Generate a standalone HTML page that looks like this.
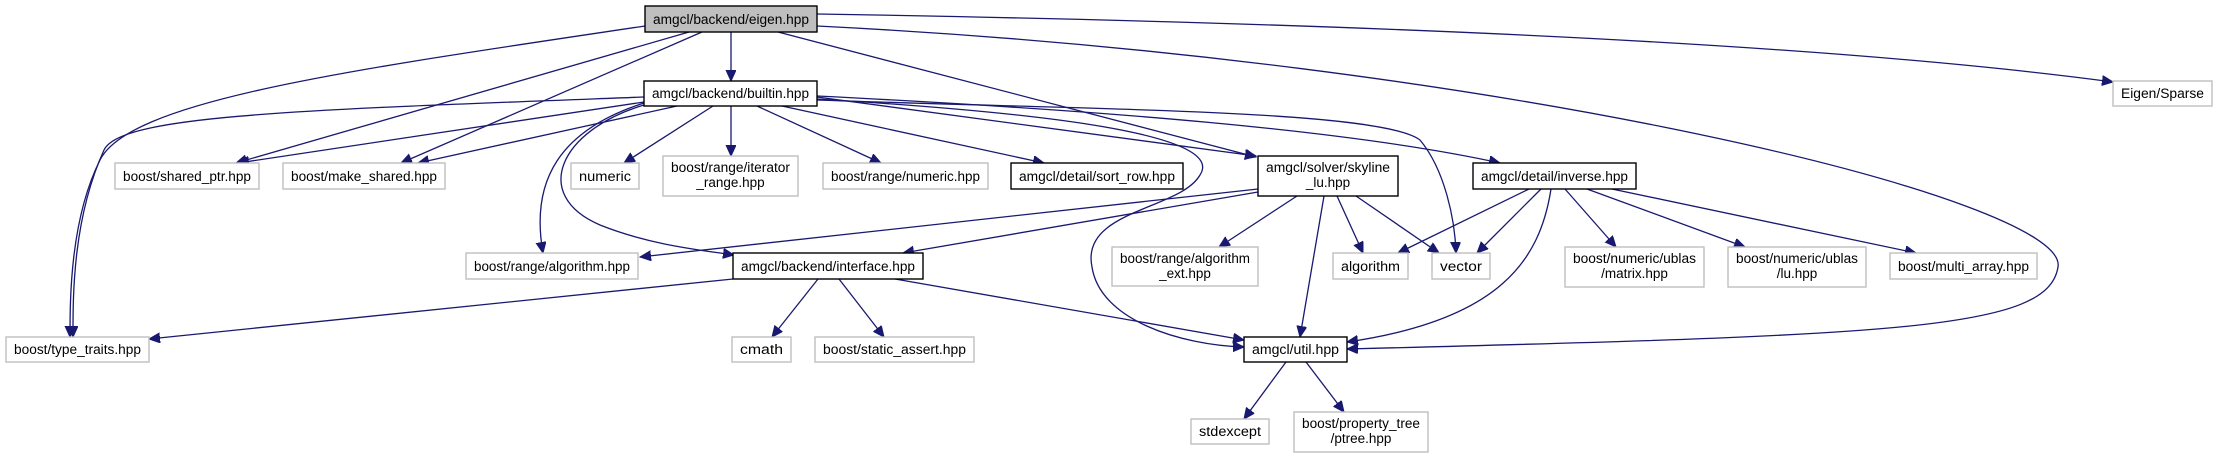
<!DOCTYPE html>
<html><head><meta charset="utf-8"><style>
html,body{margin:0;padding:0;background:#fff;}
svg{display:block;}
text{font-family:"Liberation Sans",sans-serif;font-size:13.5px;fill:#000;text-anchor:middle;}
.g{fill:#fff;stroke:#bfbfbf;stroke-width:1.4;}
.b{fill:#fff;stroke:#000;stroke-width:1.4;}
.f{fill:#bfbfbf;stroke:#000;stroke-width:1.4;}
.e{fill:none;stroke:#191970;stroke-width:1.3;marker-end:url(#a);}
</style></head><body>
<svg width="2217" height="459" viewBox="0 0 2217 459" xmlns="http://www.w3.org/2000/svg">
<defs><marker id="a" markerUnits="userSpaceOnUse" markerWidth="14" markerHeight="12" refX="11" refY="5" orient="auto"><path d="M0,0 L11,5 L0,10 z" fill="#191970" stroke="#191970"/></marker></defs>
<path class="e" d="M731,32 L731,81"/>
<path class="e" d="M689,32 L236,163"/>
<path class="e" d="M702,32 L401,163"/>
<path class="e" d="M645,26 C 350,70 130,100 100,160 C 70,220 70,300 70,337"/>
<path class="e" d="M778,32 L1256,157"/>
<path class="e" d="M817,14 C 1300,22 1800,40 2113,82"/>
<path class="e" d="M817,26 C 1500,60 2070,200 2058,267 C 2048,330 1900,335 1347,349"/>
<path class="e" d="M644,102 L238,163"/>
<path class="e" d="M677,106 L418,163"/>
<path class="e" d="M644,97 C 300,110 120,115 104,150 C 72,220 73,300 73,337"/>
<path class="e" d="M713,106 L624,163"/>
<path class="e" d="M731,106 L731,156"/>
<path class="e" d="M757,106 L881,163"/>
<path class="e" d="M782,106 L1044,163"/>
<path class="e" d="M644,103 C 560,130 530,180 543,253"/>
<path class="e" d="M644,105 C 560,130 530,195 600,225 C 650,245 700,250 734,255"/>
<path class="e" d="M817,97 L1256,156"/>
<path class="e" d="M817,99 C 1000,110 1230,130 1200,175 C 1180,210 1080,210 1092,267 C 1100,320 1180,345 1244,347"/>
<path class="e" d="M817,100 C 1100,110 1380,110 1420,140 C 1445,170 1455,220 1456,253"/>
<path class="e" d="M817,96 C 1100,110 1350,130 1500,163"/>
<path class="e" d="M1258,189 L640,257"/>
<path class="e" d="M1258,192 L903,253"/>
<path class="e" d="M1297,196 L1219,247"/>
<path class="e" d="M1324,196 L1300,337"/>
<path class="e" d="M1337,196 L1363,253"/>
<path class="e" d="M1356,196 L1439,253"/>
<path class="e" d="M1529,189 L1398,253"/>
<path class="e" d="M1541,189 L1477,253"/>
<path class="e" d="M1551,189 C 1540,260 1500,320 1347,342"/>
<path class="e" d="M1565,189 L1616,247"/>
<path class="e" d="M1587,189 L1745,247"/>
<path class="e" d="M1612,189 L1916,253"/>
<path class="e" d="M733,279 L149,339"/>
<path class="e" d="M818,279 L772,337"/>
<path class="e" d="M839,279 L884,337"/>
<path class="e" d="M895,279 L1244,340"/>
<path class="e" d="M1286,362 L1244,419"/>
<path class="e" d="M1306,362 L1344,412"/>
<rect class="f" x="645" y="6" width="172" height="26"/><text x="731" y="24" textLength="156" lengthAdjust="spacingAndGlyphs">amgcl/backend/eigen.hpp</text>
<rect class="b" x="644" y="81" width="173" height="25"/><text x="730.5" y="98" textLength="157" lengthAdjust="spacingAndGlyphs">amgcl/backend/builtin.hpp</text>
<rect class="g" x="115" y="163" width="144" height="26"/><text x="187" y="181" textLength="128" lengthAdjust="spacingAndGlyphs">boost/shared_ptr.hpp</text>
<rect class="g" x="283" y="163" width="162" height="26"/><text x="364" y="181" textLength="146" lengthAdjust="spacingAndGlyphs">boost/make_shared.hpp</text>
<rect class="g" x="571" y="163" width="68" height="26"/><text x="605" y="181" textLength="52" lengthAdjust="spacingAndGlyphs">numeric</text>
<rect class="g" x="663" y="156" width="135" height="40"/><text x="730.5" y="172" textLength="119" lengthAdjust="spacingAndGlyphs">boost/range/iterator</text><text x="730.5" y="187">_range.hpp</text>
<rect class="g" x="823" y="163" width="165" height="26"/><text x="905.5" y="181" textLength="149" lengthAdjust="spacingAndGlyphs">boost/range/numeric.hpp</text>
<rect class="b" x="1011" y="163" width="172" height="26"/><text x="1097" y="181" textLength="156" lengthAdjust="spacingAndGlyphs">amgcl/detail/sort_row.hpp</text>
<rect class="b" x="1258" y="156" width="140" height="40"/><text x="1328" y="172" textLength="124" lengthAdjust="spacingAndGlyphs">amgcl/solver/skyline</text><text x="1328" y="187">_lu.hpp</text>
<rect class="b" x="1473" y="163" width="163" height="26"/><text x="1554.5" y="181" textLength="147" lengthAdjust="spacingAndGlyphs">amgcl/detail/inverse.hpp</text>
<rect class="g" x="2113" y="81" width="99" height="25"/><text x="2162.5" y="98" textLength="83" lengthAdjust="spacingAndGlyphs">Eigen/Sparse</text>
<rect class="g" x="466" y="253" width="172" height="26"/><text x="552" y="271" textLength="156" lengthAdjust="spacingAndGlyphs">boost/range/algorithm.hpp</text>
<rect class="b" x="733" y="253" width="190" height="26"/><text x="828" y="271" textLength="174" lengthAdjust="spacingAndGlyphs">amgcl/backend/interface.hpp</text>
<rect class="g" x="1112" y="247" width="146" height="39"/><text x="1185" y="263" textLength="130" lengthAdjust="spacingAndGlyphs">boost/range/algorithm</text><text x="1185" y="278">_ext.hpp</text>
<rect class="g" x="1333" y="253" width="75" height="26"/><text x="1370.5" y="271" textLength="59" lengthAdjust="spacingAndGlyphs">algorithm</text>
<rect class="g" x="1432" y="253" width="58" height="26"/><text x="1461" y="271" textLength="42" lengthAdjust="spacingAndGlyphs">vector</text>
<rect class="g" x="1565" y="247" width="139" height="40"/><text x="1634.5" y="263" textLength="123" lengthAdjust="spacingAndGlyphs">boost/numeric/ublas</text><text x="1634.5" y="278">/matrix.hpp</text>
<rect class="g" x="1728" y="247" width="138" height="40"/><text x="1797" y="263" textLength="122" lengthAdjust="spacingAndGlyphs">boost/numeric/ublas</text><text x="1797" y="278">/lu.hpp</text>
<rect class="g" x="1890" y="253" width="147" height="26"/><text x="1963.5" y="271" textLength="131" lengthAdjust="spacingAndGlyphs">boost/multi_array.hpp</text>
<rect class="g" x="6" y="337" width="143" height="25"/><text x="77.5" y="354" textLength="127" lengthAdjust="spacingAndGlyphs">boost/type_traits.hpp</text>
<rect class="g" x="732" y="337" width="59" height="25"/><text x="761.5" y="354" textLength="43" lengthAdjust="spacingAndGlyphs">cmath</text>
<rect class="g" x="815" y="337" width="159" height="25"/><text x="894.5" y="354" textLength="143" lengthAdjust="spacingAndGlyphs">boost/static_assert.hpp</text>
<rect class="b" x="1244" y="337" width="103" height="25"/><text x="1295.5" y="354" textLength="87" lengthAdjust="spacingAndGlyphs">amgcl/util.hpp</text>
<rect class="g" x="1191" y="419" width="78" height="25"/><text x="1230" y="436" textLength="62" lengthAdjust="spacingAndGlyphs">stdexcept</text>
<rect class="g" x="1294" y="412" width="134" height="40"/><text x="1361" y="428" textLength="118" lengthAdjust="spacingAndGlyphs">boost/property_tree</text><text x="1361" y="443">/ptree.hpp</text>
</svg>
</body></html>
